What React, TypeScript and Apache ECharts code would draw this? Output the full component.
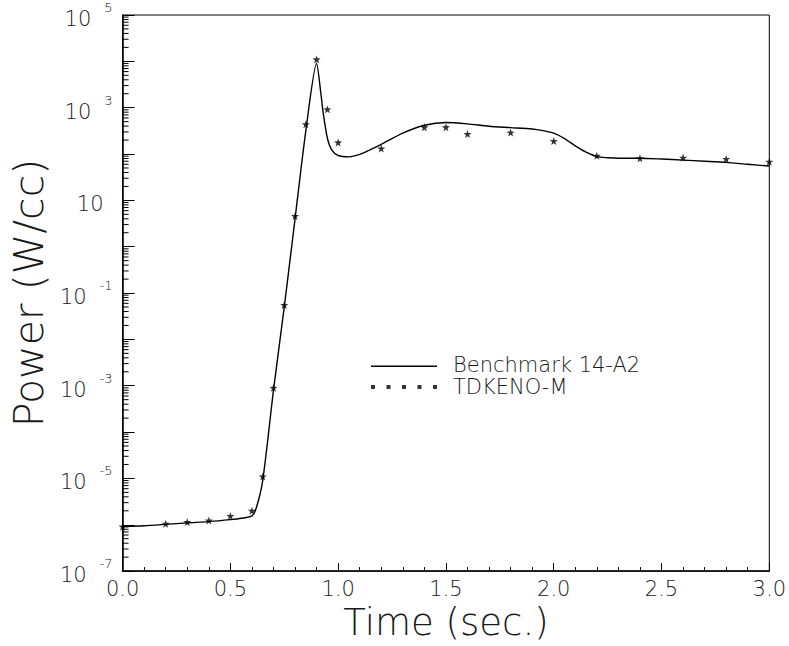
import React, { useEffect, useRef } from 'react';
import * as echarts from 'echarts';

// Benchmark 14-A2 reference solution (time in s, power in W/cc)
const benchTime = [0, 0.1, 0.2, 0.3, 0.4, 0.5, 0.55, 0.6, 0.62, 0.65, 0.7, 0.75, 0.8, 0.85, 0.9, 0.92, 0.93, 0.95, 0.97, 1.0, 1.05, 1.1, 1.15, 1.2, 1.3, 1.4, 1.5, 1.6, 1.7, 1.8, 1.9, 1.95, 2.0, 2.05, 2.1, 2.15, 2.2, 2.25, 2.3, 2.4, 2.5, 2.6, 2.7, 2.8, 2.9, 3.0];
const benchPower = [9.1e-7, 9.5e-7, 1.02e-6, 1.1e-6, 1.17e-6, 1.29e-6, 1.38e-6, 1.55e-6, 2.3e-6, 9e-6, 8e-4, 0.05, 4, 316, 9000, 2000, 810, 220, 123, 93, 87, 98, 125, 162, 282, 417, 479, 447, 398, 372, 347, 320, 282, 215, 150, 110, 88, 83, 81, 81, 78, 74, 70, 66, 60, 55];

// TDKENO-M results
const tdkTime = [0, 0.2, 0.3, 0.4, 0.5, 0.6, 0.65, 0.7, 0.75, 0.8, 0.85, 0.9, 0.95, 1.0, 1.2, 1.4, 1.5, 1.6, 1.8, 2.0, 2.2, 2.4, 2.6, 2.8, 3.0];
const tdkPower = [9.1e-7, 1.05e-6, 1.15e-6, 1.24e-6, 1.55e-6, 2.0e-6, 1.1e-5, 9e-4, 0.055, 4.6, 440, 1.1e4, 920, 178, 131, 380, 380, 270, 290, 190, 92, 81, 83, 78, 68];

// Axis definitions
const yDecadeMin = -7;
const yDecadeMax = 5;
const xMin = 0;
const xMax = 3;
const minorMultipliers = [2, 3, 4, 5, 6, 7, 8, 9];

const FONT = '"DejaVu Sans", "Liberation Sans", sans-serif';
const INK = '#1a1a1a';

const STAR = 'path://M10,0 L12.4,7 L20,7.2 L14,11.8 L16.2,19 L10,14.8 L3.8,19 L6,11.8 L0,7.2 L7.6,7 Z';
const DOTS = 'path://M0,0h4v4h-4z M15.5,0h4v4h-4z M31,0h4v4h-4z M46.5,0h4v4h-4z M62,0h4v4h-4z';
const SOLID = 'path://M0,2.6H66V4H0Z M0,0H0.01V0.01H0Z';

export default function App() {
  const ref = useRef<HTMLDivElement>(null);

  useEffect(() => {
    if (!ref.current) return;
    const chart = echarts.init(ref.current, undefined, { renderer: 'svg' });

    const minorTicks: number[][] = [];
    for (let e = yDecadeMin; e < yDecadeMax; e++) {
      for (const m of minorMultipliers) minorTicks.push([xMin, Math.log10(m * Math.pow(10, e))]);
    }

    chart.setOption({
      animation: false,
      backgroundColor: '#fff',
      textStyle: { fontFamily: FONT, fontWeight: 200, color: INK },
      grid: {
        left: 121,
        top: 15,
        width: 654,
        height: 564,
        show: true,
        borderColor: '#000',
        borderWidth: 1,
        backgroundColor: 'transparent',
      },
      legend: {
        orient: 'vertical',
        left: 366,
        top: 349,
        itemWidth: 66,
        itemHeight: 4,
        itemGap: 0,
        selectedMode: false,
        data: [
          { name: 'Benchmark 14-A2', icon: SOLID, itemStyle: { color: '#000' } },
          { name: 'TDKENO-M', icon: DOTS, itemStyle: { color: '#000' } },
        ],
        textStyle: {
          fontFamily: FONT,
          fontWeight: 200,
          fontSize: 21,
          color: INK,
          lineHeight: 22,
          padding: [0, 0, 0, 11],
        },
      },
      xAxis: {
        type: 'value',
        min: xMin,
        max: xMax,
        interval: 0.5,
        name: 'Time (sec.)',
        nameLocation: 'middle',
        nameGap: 25,
        nameTextStyle: { fontFamily: FONT, fontWeight: 200, fontSize: 37, color: INK },
        axisLine: { show: true, onZero: false, lineStyle: { color: '#000', width: 1.5 } },
        axisTick: { show: true, inside: true, length: 8, lineStyle: { color: '#000' } },
        minorTick: { show: true, splitNumber: 5, length: 4, lineStyle: { color: '#000' } },
        splitLine: { show: false },
        minorSplitLine: { show: false },
        axisLabel: {
          margin: 7,
          fontFamily: FONT,
          fontWeight: 200,
          fontSize: 21,
          color: INK,
          formatter: (v: number) => v.toFixed(1),
        },
      },
      yAxis: {
        type: 'value',
        min: yDecadeMin,
        max: yDecadeMax,
        interval: 1,
        name: 'Power (W/cc)',
        nameLocation: 'middle',
        nameGap: 68,
        nameRotate: 90,
        nameTextStyle: { fontFamily: FONT, fontWeight: 200, fontSize: 41, color: INK },
        axisLine: { show: true, onZero: false, lineStyle: { color: '#000', width: 1.5 } },
        axisTick: { show: true, inside: true, length: 12, lineStyle: { color: '#000' } },
        splitLine: { show: false },
        axisLabel: {
          margin: 10,
          fontFamily: FONT,
          fontWeight: 200,
          color: INK,
          formatter: (v: number) => {
            const e = Math.round(v);
            if (Math.abs(e % 2) !== 1) return '';
            if (e === 1) return '{p|10}';
            return '{b|10}{e|' + (e < 0 ? '-' + Math.abs(e) : String(e)) + '}';
          },
          rich: {
            b: { fontFamily: FONT, fontWeight: 200, fontSize: 21, color: INK, lineHeight: 28, padding: [8, 0, 0, 0] },
            p: { fontFamily: FONT, fontWeight: 200, fontSize: 21, color: INK, lineHeight: 28, padding: [8, 9, 0, 0] },
            e: { fontFamily: FONT, fontWeight: 200, fontSize: 13, color: INK, verticalAlign: 'top', padding: [0, 0, 0, 13] },
          },
        },
      },
      series: [
        {
          name: 'minor ticks',
          type: 'custom',
          silent: true,
          data: minorTicks,
          renderItem: (params: any, api: any) => {
            const p = api.coord([api.value(0), api.value(1)]);
            return {
              type: 'line',
              shape: { x1: p[0], y1: p[1], x2: p[0] + 6, y2: p[1] },
              style: { stroke: '#000', lineWidth: 1 },
            };
          },
          z: 5,
        },
        {
          name: 'Benchmark 14-A2',
          type: 'line',
          data: benchTime.map((t, i) => [t, Math.log10(benchPower[i])]),
          symbol: 'none',
          smooth: 0.25,
          lineStyle: { color: '#000', width: 1.4 },
          itemStyle: { color: '#000' },
          z: 3,
        },
        {
          name: 'TDKENO-M',
          type: 'scatter',
          data: tdkTime.map((t, i) => [t, Math.log10(tdkPower[i])]),
          symbol: STAR,
          symbolSize: 8,
          itemStyle: { color: '#000' },
          clip: false,
          z: 4,
        },
      ],
    });

    return () => chart.dispose();
  }, []);

  return (
    <div
      ref={ref}
      style={{ position: 'absolute', left: 0, top: 0, width: 789, height: 646, background: '#fff' }}
    />
  );
}
